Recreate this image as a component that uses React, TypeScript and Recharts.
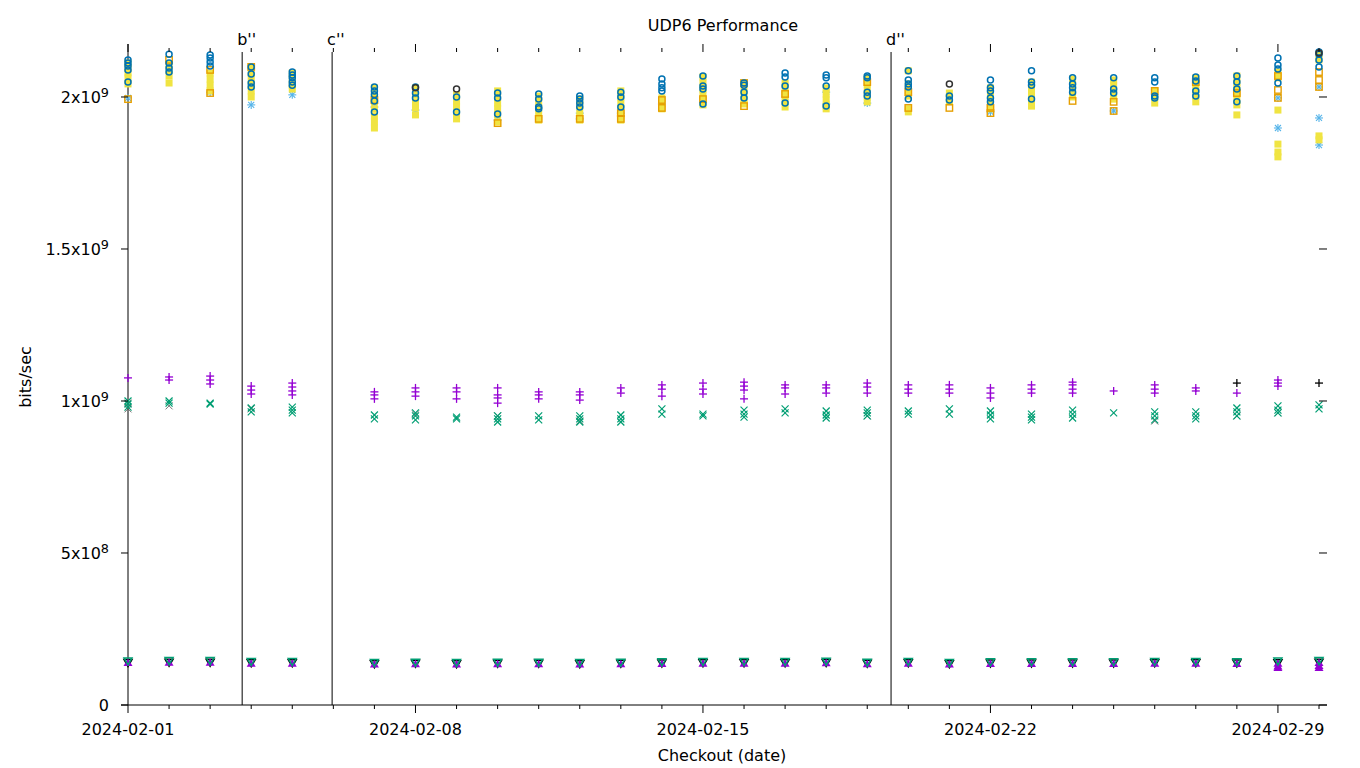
import React from 'react';
import { ScatterChart, Scatter, XAxis, YAxis, ReferenceLine } from 'recharts';

// Day offsets from 2024-02-01 where measurements exist
const DAYS = [0, 1, 2, 3, 4, 6, 7, 8, 9, 10, 11, 12, 13, 14, 15, 16, 17, 18, 19, 20, 21, 22, 23, 24, 25, 26, 27, 28, 29];

const X_TICKS = Array.from({ length: 30 }, (_, i) => i);
const X_TICK_LABELS: Record<number, string> = { 0: '2024-02-01', 7: '2024-02-08', 14: '2024-02-15', 21: '2024-02-22', 28: '2024-02-29' };
const Y_TICKS = [0, 5e8, 1e9, 1.5e9, 2e9];
const Y_TICK_LABELS: [string, string][] = [['0', ''], ['5x10', '8'], ['1x10', '9'], ['1.5x10', '9'], ['2x10', '9']];
const MARKERS = [{ day: 2.78, label: "b''" }, { day: 4.97, label: "c''" }, { day: 18.58, label: "d''" }];
const X_MAX = 29;
const Y_MAX = 2.148e9;

// values in units of 1e9 bits/sec, one list per day in DAYS
const YELLOW_SQ = [
  [2.112, 2.095, 2.079, 2.063, 2.043], [2.109, 2.089, 2.069, 2.046], [2.079, 2.059, 2.039, 2.020], [2.099, 2.079, 2.059, 2.039, 2.020, 2.000], [2.079, 2.059, 2.039, 2.026],
  [2.030, 2.007, 1.984, 1.961, 1.938, 1.918, 1.898], [2.030, 2.007, 1.984, 1.964, 1.941], [2.007, 1.987, 1.967, 1.947, 1.928], [2.020, 2.000, 1.980, 1.961, 1.941, 1.918],
  [2.003, 1.984, 1.964, 1.944, 1.924], [1.993, 1.974, 1.954, 1.934, 1.924], [2.020, 2.000, 1.980, 1.961, 1.941, 1.924], [1.997, 1.977, 1.961],
  [2.066, 2.046, 2.026, 2.007, 1.987, 1.974], [2.046, 2.026, 2.007, 1.987, 1.977], [2.046, 2.026, 2.007, 1.987, 1.967], [2.030, 2.010, 1.990, 1.970, 1.961],
  [2.063, 2.043, 2.023, 2.003, 1.984], [2.086, 2.043, 2.023, 2.003, 1.961, 1.951], [2.013, 1.997, 1.984], [2.030, 2.010, 1.990, 1.970, 1.961],
  [2.049, 2.030, 2.010, 1.990, 1.970], [2.059, 2.039, 2.020, 2.000], [2.056, 2.036, 2.016, 1.993], [2.020, 2.000, 1.980],
  [2.063, 2.043, 2.023, 2.003, 1.984], [2.069, 2.049, 2.030, 2.010, 1.990, 1.974, 1.941], [2.082, 2.063, 1.957, 1.845, 1.819, 1.803], [2.141, 2.122, 1.872, 1.859],
];
const ORANGE_SQ = [
  [1.993], [2.122], [2.089, 2.013], [2.099], [],
  [1.990], [], [], [1.914], [1.928], [1.928], [1.947, 1.928], [1.990, 1.964], [1.993], [2.046, 1.970], [2.010], [], [2.049],
  [2.016, 1.964], [1.964], [1.964, 1.947], [], [1.987], [1.984, 1.954], [2.020], [2.049], [2.013], [2.069, 2.023, 1.997], [2.082, 2.056, 2.033],
];
const SKY_STAR = [
  [1.997], [], [2.016], [1.974], [2.007],
  [1.967], [1.957], [], [1.924], [], [1.947, 1.928], [1.947], [1.977], [], [], [2.000], [2.016, 1.977], [1.980],
  [], [], [1.951], [], [], [1.954], [], [], [], [1.997, 1.898], [2.033, 1.931, 1.842],
];
const BLUE_CIRCLE = [
  [2.122, 2.112, 2.102, 2.089, 2.049], [2.141, 2.112, 2.095, 2.082], [2.138, 2.128, 2.115, 2.102], [2.099, 2.076, 2.046, 2.033], [2.082, 2.072, 2.063, 2.049, 2.039],
  [2.033, 2.020, 2.007, 1.987, 1.951], [2.033, 2.013, 1.997], [2.000, 1.951], [2.013, 1.997, 1.944], [2.010, 1.993, 1.967, 1.961], [2.003, 1.993, 1.980, 1.967],
  [2.016, 2.000, 1.967], [2.059, 2.043, 2.030, 2.020], [2.069, 2.036, 2.026, 1.977], [2.046, 2.039, 2.016, 1.997], [2.079, 2.066, 2.036, 1.980],
  [2.072, 2.063, 2.036, 1.970], [2.069, 2.063, 2.016, 2.003], [2.086, 2.056, 2.043, 2.033, 1.993], [2.003, 1.990], [2.056, 2.030, 2.020, 1.997, 1.984],
  [2.086, 2.049, 2.039, 1.993], [2.063, 2.043, 2.030, 2.016], [2.063, 2.026, 2.013], [2.063, 2.049, 2.003, 1.997], [2.066, 2.053, 2.020, 2.003],
  [2.069, 2.049, 2.026, 1.984], [2.128, 2.105, 2.092, 2.046], [2.148, 2.141, 2.122, 2.099],
];
const BLACK_CIRCLE = [
  [], [], [], [], [], [], [2.030], [2.026], [], [], [], [], [], [], [], [], [], [],
  [], [2.043], [], [], [], [], [], [], [], [], [2.145],
];
const PURPLE_PLUS = [
  [1.076], [1.079, 1.069], [1.082, 1.069, 1.056], [1.049, 1.036, 1.023], [1.059, 1.046, 1.033, 1.020],
  [1.030, 1.020, 1.007], [1.043, 1.030, 1.016], [1.043, 1.030, 1.007], [1.043, 1.020, 1.010, 0.993], [1.030, 1.020, 1.007], [1.030, 1.020, 1.003],
  [1.043, 1.026], [1.053, 1.039, 1.016], [1.059, 1.039, 1.023], [1.062, 1.049, 1.036, 1.007], [1.053, 1.043, 1.023], [1.053, 1.043, 1.026],
  [1.059, 1.046, 1.026], [1.053, 1.039, 1.026], [1.053, 1.039, 1.026], [1.043, 1.026, 1.010], [1.053, 1.039, 1.026], [1.062, 1.053, 1.039, 1.026],
  [1.033], [1.053, 1.039, 1.026], [1.043, 1.033], [1.026], [1.069, 1.059, 1.049], [],
];
const BLACK_PLUS = [
  [], [], [], [], [], [], [], [], [], [], [], [], [], [], [], [], [], [], [], [], [], [], [], [], [], [], [1.059], [], [1.059],
];
const GREEN_X = [
  [1.000, 0.990, 0.980], [1.000, 0.993], [0.993, 0.990], [0.977, 0.964], [0.980, 0.970, 0.961],
  [0.954, 0.941], [0.961, 0.951, 0.938], [0.947, 0.941], [0.951, 0.941, 0.931], [0.951, 0.938], [0.951, 0.941, 0.931], [0.954, 0.941, 0.931],
  [0.974, 0.957], [0.957, 0.951], [0.970, 0.957, 0.947], [0.974, 0.961], [0.967, 0.954, 0.944], [0.970, 0.961, 0.951], [0.967, 0.957],
  [0.974, 0.957], [0.967, 0.954, 0.941], [0.957, 0.947, 0.938], [0.970, 0.957, 0.944], [0.961], [0.964, 0.951, 0.938], [0.964, 0.951, 0.941],
  [0.977, 0.964, 0.951], [0.984, 0.970, 0.961], [0.987, 0.974],
];
const BLACK_X = [
  [0.993, 0.974], [0.984], [], [0.974], [], [], [0.957], [], [0.951], [], [0.934], [], [], [], [], [], [], [0.951],
  [], [], [], [], [], [], [0.934], [], [0.951], [0.961], [],
];
const LOW_PURPLE = [
  [0.138], [0.139], [0.139], [0.136], [0.136], [0.133], [0.134], [0.133], [0.134], [0.134], [0.133], [0.134], [0.135], [0.136], [0.136],
  [0.136], [0.137], [0.134], [0.136], [0.133], [0.135], [0.135], [0.135], [0.135], [0.136], [0.136], [0.135], [0.136, 0.127, 0.122], [0.138, 0.128, 0.122],
];
const LOW_GREEN = [
  [0.145], [0.146], [0.146], [0.143], [0.143], [0.140], [0.141], [0.140], [0.141], [0.141], [0.140], [0.141], [0.142], [0.143], [0.143],
  [0.143], [0.144], [0.141], [0.143], [0.140], [0.142], [0.142], [0.142], [0.142], [0.143], [0.143], [0.142], [0.145], [0.146],
];
const LOW_BLACK = [
  [0.140], [0.141], [0.141], [0.139], [0.139], [0.136], [0.137], [0.136], [0.137], [0.137], [0.136], [0.137], [0.138], [0.139], [0.139],
  [0.139], [0.140], [0.137], [0.139], [0.136], [0.138], [0.138], [0.138], [0.138], [0.139], [0.139], [0.138], [0.139], [0.141],
];
const LOW_RED = [
  [0.134], [], [], [0.132], [], [], [], [], [], [], [], [], [], [], [], [], [], [], [], [], [], [], [], [], [], [], [], [], [],
];

const build = (vals: number[][]) => vals.flatMap((arr, i) => arr.map((v) => ({ x: DAYS[i], y: v * 1e9 })));

const FONT = '"DejaVu Sans", sans-serif';

const FilledSquare = (color: string) => (p: any) => <rect x={p.cx - 3.5} y={p.cy - 3.5} width={7} height={7} fill={color} />;
const OpenSquare = (color: string) => (p: any) => <rect x={p.cx - 3.2} y={p.cy - 3.2} width={6.4} height={6.4} fill="none" stroke={color} strokeWidth={1.4} />;
const OpenCircle = (color: string) => (p: any) => <circle cx={p.cx} cy={p.cy} r={3} fill="none" stroke={color} strokeWidth={1.5} />;
const Star = (color: string) => (p: any) => (
  <g stroke={color} strokeWidth={1.1}>
    <line x1={p.cx - 4} y1={p.cy} x2={p.cx + 4} y2={p.cy} />
    <line x1={p.cx} y1={p.cy - 4} x2={p.cx} y2={p.cy + 4} />
    <line x1={p.cx - 3} y1={p.cy - 3} x2={p.cx + 3} y2={p.cy + 3} />
    <line x1={p.cx - 3} y1={p.cy + 3} x2={p.cx + 3} y2={p.cy - 3} />
  </g>
);
const Plus = (color: string) => (p: any) => (
  <g stroke={color} strokeWidth={1.3}>
    <line x1={p.cx - 4} y1={p.cy} x2={p.cx + 4} y2={p.cy} />
    <line x1={p.cx} y1={p.cy - 4} x2={p.cx} y2={p.cy + 4} />
  </g>
);
const Cross = (color: string, w = 1.2) => (p: any) => (
  <g stroke={color} strokeWidth={w}>
    <line x1={p.cx - 3.5} y1={p.cy - 3.5} x2={p.cx + 3.5} y2={p.cy + 3.5} />
    <line x1={p.cx - 3.5} y1={p.cy + 3.5} x2={p.cx + 3.5} y2={p.cy - 3.5} />
  </g>
);
const TriUp = (color: string) => (p: any) => (
  <polygon points={`${p.cx},${p.cy - 4.5} ${p.cx - 4.5},${p.cy + 3} ${p.cx + 4.5},${p.cy + 3}`} fill={color} />
);
const TriDownOpen = (color: string) => (p: any) => (
  <polygon points={`${p.cx - 4},${p.cy - 3} ${p.cx + 4},${p.cy - 3} ${p.cx},${p.cy + 4}`} fill="none" stroke={color} strokeWidth={1.5} />
);
const Dot = (color: string) => (p: any) => <circle cx={p.cx} cy={p.cy} r={2} fill={color} />;

const BottomTick = (p: any) => {
  const d = p.payload.value;
  const major = d % 7 === 0;
  return (
    <g>
      <line x1={p.x} x2={p.x} y1={p.y} y2={p.y + (major ? 8 : 4)} stroke="#000" strokeWidth={1} />
      {major && X_TICK_LABELS[d] && (
        <text x={p.x} y={p.y + 30} textAnchor="middle" fontFamily={FONT} fontSize={16} fill="#000">{X_TICK_LABELS[d]}</text>
      )}
    </g>
  );
};
const TopTick = (p: any) => {
  const d = p.payload.value;
  const major = d % 7 === 0;
  return <line x1={p.x} x2={p.x} y1={p.y} y2={p.y - (major ? 8 : 4)} stroke="#000" strokeWidth={1} />;
};
const LeftTick = (p: any) => {
  const idx = Y_TICKS.indexOf(p.payload.value);
  const [m, e] = Y_TICK_LABELS[idx] || ['', ''];
  return (
    <g>
      <line x1={p.x - 7} x2={p.x} y1={p.y} y2={p.y} stroke="#000" strokeWidth={1} />
      <text x={p.x - 19} y={p.y + 6} textAnchor="end" fontFamily={FONT} fontSize={16} fill="#000">
        {m}
        {e && <tspan fontSize={12.8} dy={-6}>{e}</tspan>}
      </text>
    </g>
  );
};
const RightTick = (p: any) => <line x1={p.x} x2={p.x + 8} y1={p.y} y2={p.y} stroke="#000" strokeWidth={1} />;

const RefLabel = (props: any) => {
  const vb = props.viewBox || {};
  return (
    <text x={vb.x - 5} y={vb.y - 7} fontFamily={FONT} fontSize={16} fill="#000">{props.value}</text>
  );
};

const W = 1352;
const H = 760;

export default function App() {
  const ax = { xAxisId: 'bottom', yAxisId: 'left' } as const;
  return (
    <div style={{ position: 'relative', width: W, height: H }}>
      <ScatterChart width={W} height={H} margin={{ top: 0, right: 0, bottom: 0, left: 0 }}>
        <XAxis xAxisId="top" orientation="top" type="number" dataKey="x" domain={[0, X_MAX]} ticks={X_TICKS} interval={0}
          height={44} axisLine={false} tickLine={false} tickSize={0} tickMargin={0} tick={<TopTick />} allowDataOverflow />
        <XAxis xAxisId="bottom" orientation="bottom" type="number" dataKey="x" domain={[0, X_MAX]} ticks={X_TICKS} interval={0}
          height={63} axisLine={false} tickLine={false} tickSize={0} tickMargin={0} tick={<BottomTick />} />
        <YAxis yAxisId="left" orientation="left" type="number" dataKey="y" domain={[0, Y_MAX]} ticks={Y_TICKS} interval={0}
          width={120} axisLine={false} tickLine={false} tickSize={0} tickMargin={0} tick={<LeftTick />} />
        <YAxis yAxisId="right" orientation="right" type="number" dataKey="y" domain={[0, Y_MAX]} ticks={Y_TICKS} interval={0}
          width={41} axisLine={false} tickLine={false} tickSize={0} tickMargin={0} tick={<RightTick />} allowDataOverflow />

        <ReferenceLine {...ax} ifOverflow="visible" stroke="#000" strokeWidth={1}
          segment={[{ x: 0, y: 0 }, { x: 0, y: Y_MAX + 8 / 304 * 1e9 }]} />
        <ReferenceLine {...ax} ifOverflow="visible" stroke="#000" strokeWidth={1}
          segment={[{ x: -7 / 41.07, y: 0 }, { x: X_MAX + 8 / 41.07, y: 0 }]} />
        {MARKERS.map((m) => (
          <ReferenceLine key={m.label} {...ax} x={m.day} stroke="#000" strokeWidth={1} label={<RefLabel value={m.label} />} />
        ))}

        <Scatter {...ax} data={build(LOW_RED)} isAnimationActive={false} shape={Dot('#e51e10')} />
        <Scatter {...ax} data={build(LOW_BLACK)} isAnimationActive={false} shape={TriDownOpen('#000000')} />
        <Scatter {...ax} data={build(LOW_PURPLE)} isAnimationActive={false} shape={TriUp('#9400d3')} />
        <Scatter {...ax} data={build(LOW_GREEN)} isAnimationActive={false} shape={TriDownOpen('#009e73')} />

        <Scatter {...ax} data={build(BLACK_X)} isAnimationActive={false} shape={Cross('#555555', 0.8)} />
        <Scatter {...ax} data={build(GREEN_X)} isAnimationActive={false} shape={Cross('#009e73')} />
        <Scatter {...ax} data={build(PURPLE_PLUS)} isAnimationActive={false} shape={Plus('#9400d3')} />
        <Scatter {...ax} data={build(BLACK_PLUS)} isAnimationActive={false} shape={Plus('#000000')} />

        <Scatter {...ax} data={build(SKY_STAR)} isAnimationActive={false} shape={Star('#56b4e9')} />
        <Scatter {...ax} data={build(YELLOW_SQ)} isAnimationActive={false} shape={FilledSquare('#f0e442')} />
        <Scatter {...ax} data={build(ORANGE_SQ)} isAnimationActive={false} shape={OpenSquare('#e69f00')} />
        <Scatter {...ax} data={build(BLUE_CIRCLE)} isAnimationActive={false} shape={OpenCircle('#0072b2')} />
        <Scatter {...ax} data={build(BLACK_CIRCLE)} isAnimationActive={false} shape={OpenCircle('#333333')} />
      </ScatterChart>
      <svg width={W} height={H} style={{ position: 'absolute', left: 0, top: 0, pointerEvents: 'none' }}>
        <text x={715} y={23} textAnchor="middle" fontFamily={FONT} fontSize={16} fill="#000">UDP6 Performance</text>
        <text x={714} y={753} textAnchor="middle" fontFamily={FONT} fontSize={16} fill="#000">Checkout (date)</text>
        <text x={23} y={369} textAnchor="middle" fontFamily={FONT} fontSize={16} fill="#000" transform="rotate(-90 23 369)">bits/sec</text>
      </svg>
    </div>
  );
}
